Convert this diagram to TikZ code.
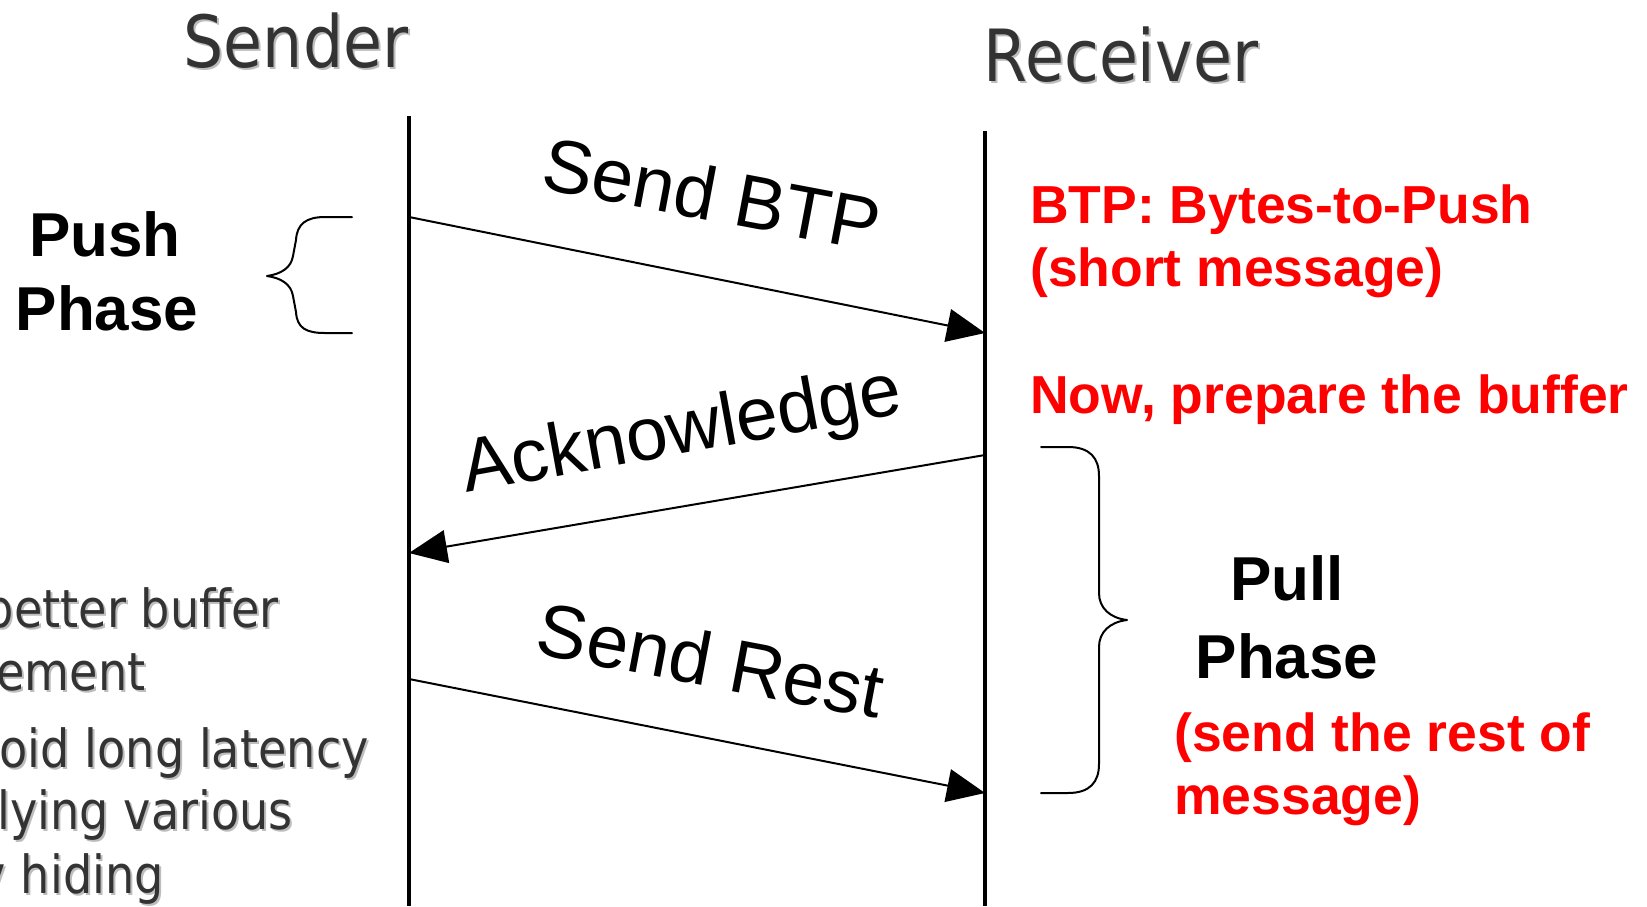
\documentclass[tikz,border=0pt]{standalone}
\usepackage{fontspec}
\setmainfont{Liberation Sans}
\newfontfamily\tahfont{DejaVu Sans}[FakeStretch=0.88]
\usetikzlibrary{arrows.meta}
\definecolor{txtgray}{HTML}{333333}
\definecolor{shadowgray}{HTML}{BDBDBD}
\definecolor{pptred}{HTML}{FF0000}
\begin{document}
\begin{tikzpicture}[x=1pt,y=-1pt,
  lifeline/.style={line width=3.5pt,draw=black},
  msg/.style={line width=2pt,draw=black,-{Triangle[length=38pt,width=33pt]}},
  msglabel/.style={font=\fontsize{75}{90}\selectfont,inner sep=0pt},
  brace/.style={line width=2pt,line join=round,line cap=round},
  phase/.style={font=\bfseries\fontsize{62}{74}\selectfont,inner sep=0pt,anchor=base},
  note/.style={text=pptred,font=\bfseries\fontsize{53.5}{62}\selectfont,inner sep=0pt,anchor=base west},
  headtxt/.style={text=txtgray,font=\tahfont\fontsize{72}{86}\selectfont,inner sep=0pt,anchor=base},
  headshadow/.style={headtxt,text=shadowgray},
  sidetxt/.style={text=txtgray,font=\tahfont\fontsize{52.5}{62}\selectfont,inner sep=0pt,anchor=base east},
  sideshadow/.style={sidetxt,text=shadowgray}]
\useasboundingbox (0,0) rectangle (1647,906);
\clip (0,0) rectangle (1647,906);
\fill[white] (0,0) rectangle (1647,906);

% headings
\node[headshadow] at (298,69) {Sender};
\node[headtxt] (sender) at (296,67) {Sender};
\node[headshadow] at (1123,83) {Receiver};
\node[headtxt] (receiver) at (1121,81) {Receiver};

% lifelines
\coordinate (stop) at (409,116);
\coordinate (sbot) at (409,906);
\coordinate (rtop) at (985,131);
\coordinate (rbot) at (985,906);
\draw[lifeline] (stop) -- (sbot);
\draw[lifeline] (rtop) -- (rbot);

% messages
\coordinate (m1s) at (409,217);
\coordinate (m1r) at (985,333);
\coordinate (m2r) at (985,455);
\coordinate (m2s) at (409,553);
\coordinate (m3s) at (409,679);
\coordinate (m3r) at (985,793);
\draw[msg] (m1s) -- (m1r);
\draw[msg] (m2r) -- (m2s);
\draw[msg] (m3s) -- (m3r);

\node[msglabel,rotate=-10.7] (l1) at (712,194) {Send BTP};
\node[msglabel,rotate=10.3] (l2) at (682,434) {Acknowledge};
\node[msglabel,rotate=-10.7] (l3) at (711,660) {Send Rest};

% push phase brace
\draw[brace] (352,217) -- (325,217) .. controls (306,217) and (297,224) .. (296,240)
  -- (293,256) .. controls (291,268) and (281,274) .. (267,276)
  .. controls (281,278) and (291,284) .. (293,296)
  -- (296,312) .. controls (297,328) and (306,333) .. (325,333) -- (352,333);
\node[phase] (push1) at (105,256) {Push};
\node[phase] (push2) at (107,330) {Phase};

% pull phase brace
\draw[brace] (1041,447) -- (1068,447) .. controls (1090,447) and (1099,458) .. (1099,476)
  -- (1099,593) .. controls (1099,608) and (1110,618) .. (1127,620)
  .. controls (1110,622) and (1099,632) .. (1099,647)
  -- (1099,764) .. controls (1099,782) and (1090,793) .. (1068,793) -- (1041,793);
\node[phase] (pull1) at (1287,600) {Pull};
\node[phase] (pull2) at (1287,678) {Phase};

% red notes
\node[note] (n1) at (1030,223) {BTP: Bytes-to-Push};
\node[note] (n2) at (1030,286) {(short message)};
\node[note] (n3) at (1030,413) {Now, prepare the buffer};
\node[note] (n4) at (1174,751) {(send the rest of};
\node[note] (n5) at (1174,814) {message)};

% clipped side text
\node[sideshadow] at (281,629) {better buffer};
\node[sidetxt] (s1) at (279,627) {better buffer};
\node[sideshadow] at (148,692) {ement};
\node[sidetxt] (s2) at (146,690) {ement};
\node[sideshadow] at (371,769) {oid long latency};
\node[sidetxt] (s3) at (369,767) {oid long latency};
\node[sideshadow] at (295,831) {lying various};
\node[sidetxt] (s4) at (293,829) {lying various};
\node[sideshadow] at (166,895) {y hiding};
\node[sidetxt] (s5) at (164,893) {y hiding};
\end{tikzpicture}
\end{document}
